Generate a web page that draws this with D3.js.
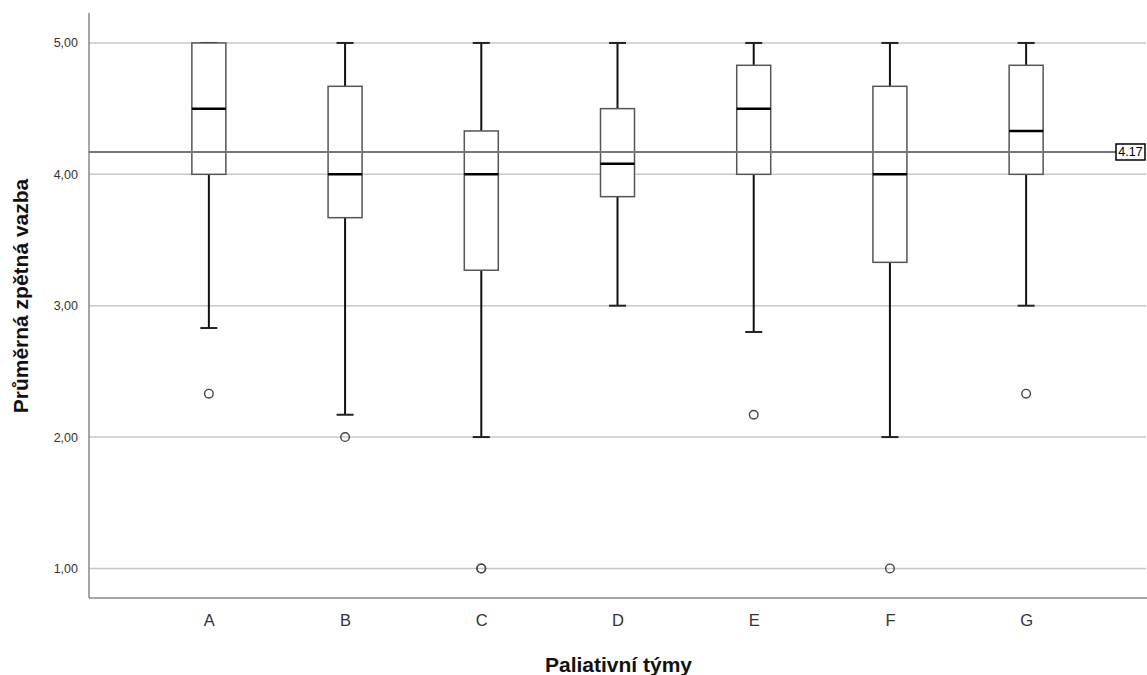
<!DOCTYPE html>
<html>
<head>
<meta charset="utf-8">
<script src="https://cdn.jsdelivr.net/npm/d3@7"></script>
<style>
  body { margin: 0; background: #fff; }
  svg { display: block; font-family: "Liberation Sans", Arial, sans-serif; }
</style>
</head>
<body>
<div id="chart"></div>
<script>
// box plot values per team
const teams = ["A", "B", "C", "D", "E", "F", "G"];
const whiskerLow = [2.83, 2.17, 2.00, 3.00, 2.80, 2.00, 3.00];
const q1 = [4.00, 3.67, 3.27, 3.83, 4.00, 3.33, 4.00];
const median = [4.50, 4.00, 4.00, 4.08, 4.50, 4.00, 4.33];
const q3 = [5.00, 4.67, 4.33, 4.50, 4.83, 4.67, 4.83];
const whiskerHigh = [5.00, 5.00, 5.00, 5.00, 5.00, 5.00, 5.00];
const outliers = [[2.33], [2.00], [1.00, 1.00], [], [2.17], [1.00], [2.33]];
const yTicks = [1, 2, 3, 4, 5];
const refValue = 4.17;

const W = 1147, H = 675;
const plotL = 89, plotR = 1146, plotT = 13, plotB = 598;

const svg = d3.select("#chart").append("svg")
    .attr("width", W)
    .attr("height", H);

const x = d3.scalePoint()
    .domain(teams)
    .range([plotL, plotR])
    .padding(0.88);

const y = d3.scaleLinear()
    .domain([0.775, 5.228])
    .range([plotB, plotT]);

const boxW = 34, capW = 17;
const fmt = v => d3.format(".2f")(v).replace(".", ",");

// gridlines
svg.append("g").selectAll("line")
    .data(yTicks)
    .join("line")
    .attr("x1", plotL).attr("x2", plotR)
    .attr("y1", d => y(d)).attr("y2", d => y(d))
    .attr("stroke", "#c8c8c8")
    .attr("stroke-width", 1.5);

// y axis labels
svg.append("g")
    .attr("transform", "translate(" + plotL + ",0)")
    .call(d3.axisLeft(y).tickValues(yTicks).tickFormat(fmt).tickSize(0).tickPadding(11))
    .call(g => g.select(".domain").remove())
    .selectAll("text")
    .attr("font-size", 12.5)
    .attr("fill", "#333")
    .attr("font-family", "Liberation Sans, Arial, sans-serif");

// x axis labels
svg.append("g")
    .attr("transform", "translate(0," + plotB + ")")
    .call(d3.axisBottom(x).tickSize(0).tickPadding(16))
    .call(g => g.select(".domain").remove())
    .selectAll("text")
    .attr("font-size", 16.5)
    .attr("fill", "#333")
    .attr("font-family", "Liberation Sans, Arial, sans-serif");

// axis lines
svg.append("line")
    .attr("x1", plotL).attr("x2", plotL)
    .attr("y1", plotT).attr("y2", plotB)
    .attr("stroke", "#888").attr("stroke-width", 1.5);
svg.append("line")
    .attr("x1", plotL).attr("x2", W)
    .attr("y1", plotB).attr("y2", plotB)
    .attr("stroke", "#888").attr("stroke-width", 1.5);

const rows = teams.map((t, i) => ({
    team: t, lo: whiskerLow[i], q1: q1[i], med: median[i], q3: q3[i], hi: whiskerHigh[i], out: outliers[i]
}));

const box = svg.append("g").selectAll("g")
    .data(rows)
    .join("g");

// whiskers
box.append("line")
    .attr("x1", d => x(d.team)).attr("x2", d => x(d.team))
    .attr("y1", d => y(d.q1)).attr("y2", d => y(d.lo))
    .attr("stroke", "#111").attr("stroke-width", 2);
box.append("line")
    .attr("x1", d => x(d.team)).attr("x2", d => x(d.team))
    .attr("y1", d => y(d.q3)).attr("y2", d => y(d.hi))
    .attr("stroke", "#111").attr("stroke-width", 2);
box.append("line")
    .attr("x1", d => x(d.team) - capW / 2).attr("x2", d => x(d.team) + capW / 2)
    .attr("y1", d => y(d.lo)).attr("y2", d => y(d.lo))
    .attr("stroke", "#222").attr("stroke-width", 2);
box.append("line")
    .attr("x1", d => x(d.team) - capW / 2).attr("x2", d => x(d.team) + capW / 2)
    .attr("y1", d => y(d.hi)).attr("y2", d => y(d.hi))
    .attr("stroke", "#222").attr("stroke-width", 2);

// boxes
box.append("rect")
    .attr("x", d => x(d.team) - boxW / 2)
    .attr("width", boxW)
    .attr("y", d => y(d.q3))
    .attr("height", d => y(d.q1) - y(d.q3))
    .attr("fill", "#fff")
    .attr("stroke", "#555")
    .attr("stroke-width", 1.5);

// median
box.append("line")
    .attr("x1", d => x(d.team) - boxW / 2).attr("x2", d => x(d.team) + boxW / 2)
    .attr("y1", d => y(d.med)).attr("y2", d => y(d.med))
    .attr("stroke", "#000").attr("stroke-width", 2.5);

// outliers
box.selectAll("circle")
    .data(d => d.out.map(v => ({ team: d.team, v: v })))
    .join("circle")
    .attr("cx", d => x(d.team))
    .attr("cy", d => y(d.v))
    .attr("r", 4.3)
    .attr("fill", "none")
    .attr("stroke", "#444")
    .attr("stroke-width", 1.4);

// reference line
svg.append("line")
    .attr("x1", plotL).attr("x2", 1116)
    .attr("y1", y(refValue)).attr("y2", y(refValue))
    .attr("stroke", "#777").attr("stroke-width", 2);

const refLabel = svg.append("g")
    .attr("transform", "translate(1116," + y(refValue) + ")");
refLabel.append("rect")
    .attr("x", 0).attr("y", -8)
    .attr("width", 29).attr("height", 16)
    .attr("fill", "#fff")
    .attr("stroke", "#000")
    .attr("stroke-width", 1.5);
refLabel.append("text")
    .attr("x", 14.5).attr("y", 4.5)
    .attr("text-anchor", "middle")
    .attr("font-size", 12.5)
    .attr("fill", "#000")
    .text(String(refValue));

// axis titles
svg.append("text")
    .attr("x", (plotL + plotR) / 2 + 1)
    .attr("y", 672)
    .attr("text-anchor", "middle")
    .attr("font-size", 21)
    .attr("font-weight", "bold")
    .attr("fill", "#111")
    .text("Paliativní týmy");

svg.append("text")
    .attr("transform", "translate(28," + 296 + ") rotate(-90)")
    .attr("text-anchor", "middle")
    .attr("font-size", 21)
    .attr("font-weight", "bold")
    .attr("fill", "#111")
    .text("Průměrná zpětná vazba");
</script>
</body>
</html>
